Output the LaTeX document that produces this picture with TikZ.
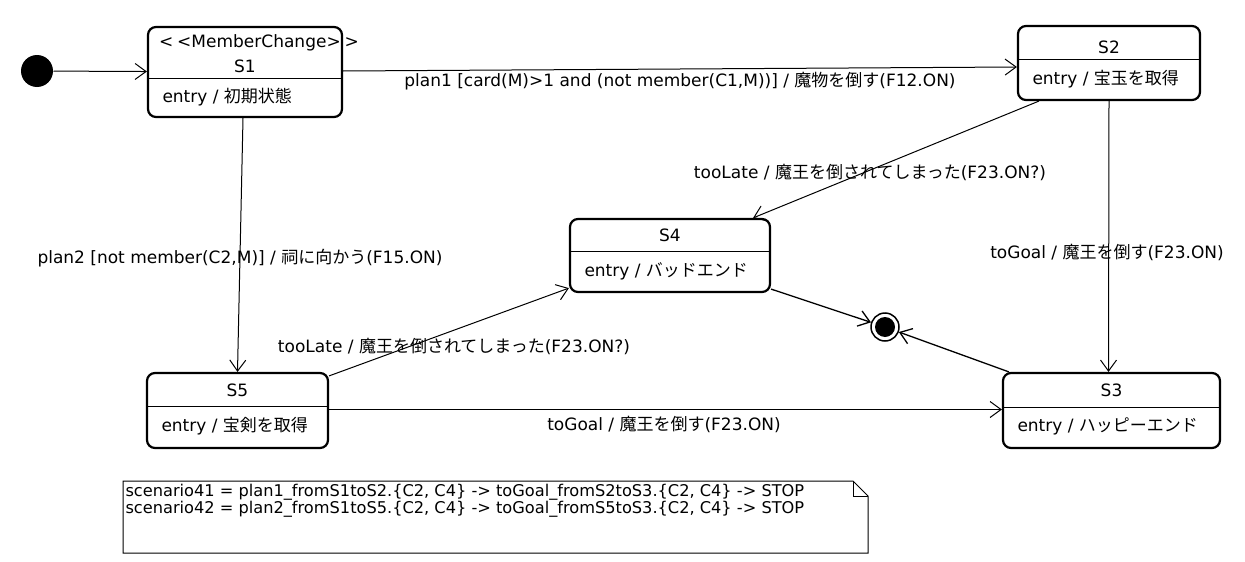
\documentclass[tikz,border=0pt]{standalone}
\usepackage{fontspec}
\setmainfont{DejaVu Sans}
\newfontfamily\jp{Noto Sans CJK JP}
\usetikzlibrary{arrows.meta, positioning, fit}
\tikzset{
  every picture/.style={line width=1pt},
  state/.style={draw, line width=2.2pt, rounded corners=8pt, inner sep=0pt},
  trans/.style={-{Straight Barb[length=11pt, width=16pt]}, line width=1pt},
  translabel/.style={font=\fontsize{17}{20}\selectfont, inner sep=0pt},
  notetext/.style={font=\fontsize{16.2}{19}\selectfont, inner sep=0pt, anchor=west},
}
\begin{document}
\begin{tikzpicture}[x=1pt, y=-1pt, every node/.append style={font=\fontsize{17}{20}\selectfont}]
  \useasboundingbox (0,0) rectangle (1245,562);
  % states: name/left/top/right/bottom/divider/title y/entry y/title/entry
  \foreach \n/\l/\t/\r/\b/\d/\ty/\ey/\nm/\en in {
      s1/148/27/342/117/78/66/97/S1/初期状態,
      s2/1018/26/1200/100/59/47/79/S2/宝玉を取得,
      s4/570/219/770/292/251/235/271/S4/バッドエンド,
      s5/147/373/328/448/406/390/426/S5/宝剣を取得,
      s3/1003/373/1220/448/407/390/426/S3/ハッピーエンド} {
    \node[state, fit={(\l,\t) (\r,\b)}] (\n) {};
    \draw (\l,\d) -- (\r,\d);
    \node[inner sep=0pt] (\n-title) at ({(\l+\r)/2},\ty) {\nm};
    \node[inner sep=0pt, anchor=west] (\n-entry) at ({\l+14},\ey) {entry / {\jp \en}};
  }
  \node[inner sep=0pt] (s1-stereo) at (259,43) {<\kern4pt<MemberChange>\kern4pt>};

  \node[circle, fill, minimum size=32pt, inner sep=0pt] (init) at (37,71) {};
  \node[circle, draw, line width=1.5pt, minimum size=28pt, inner sep=0pt,
        path picture={\fill (path picture bounding box.center) circle (10pt);}] (fin) at (885,327) {};

  % transitions
  \draw[trans] (init) -- (s1);
  \draw[trans] ([yshift=1pt]s1.east) -- ([yshift=-4pt]s2.west);
  \draw[trans] ([xshift=-2pt]s1.south) -- (s5.north);
  \draw[trans] ([xshift=22pt]s2.south west) -- ([xshift=-18pt]s4.north east);
  \draw[trans] (s2.south) -- ([xshift=-3pt]s3.north);
  \draw[trans] ([yshift=-4pt]s5.north east) -- ([yshift=5pt]s4.south west);
  \draw[trans] ([yshift=1pt]s5.east) -- ([yshift=1pt]s3.west);
  \draw[trans, line width=1.3pt] ([yshift=4pt]s4.south east) -- (fin);
  \draw[trans, line width=1.3pt] ([xshift=7pt]s3.north west) -- (fin);

  \node[translabel] (l12) at (680,81) {plan1 [card(M)>1 and (not member(C1,M))] / {\jp 魔物を倒す}(F12.ON)};
  \node[translabel] (l15) at (240,258) {plan2 [not member(C2,M)] / {\jp 祠に向かう}(F15.ON)};
  \node[translabel] (l24) at (870,172) {tooLate / {\jp 魔王を倒されてしまった}(F23.ON?)};
  \node[translabel] (l23) at (1107,252) {toGoal / {\jp 魔王を倒す}(F23.ON)};
  \node[translabel] (l54) at (454,346) {tooLate / {\jp 魔王を倒されてしまった}(F23.ON?)};
  \node[translabel] (l53) at (664,424) {toGoal / {\jp 魔王を倒す}(F23.ON)};

  % note
  \draw (123,481) -- (853,481) -- (868,496) -- (868,553) -- (123,553) -- cycle;
  \draw (853,481) -- (853,496) -- (868,496);
  \node[notetext] (sc41) at (125,492) {scenario41 = plan1\_fromS1toS2.\{C2, C4\} -> toGoal\_fromS2toS3.\{C2, C4\} -> STOP};
  \node[notetext] (sc42) at (125,509) {scenario42 = plan2\_fromS1toS5.\{C2, C4\} -> toGoal\_fromS5toS3.\{C2, C4\} -> STOP};
\end{tikzpicture}
\end{document}
